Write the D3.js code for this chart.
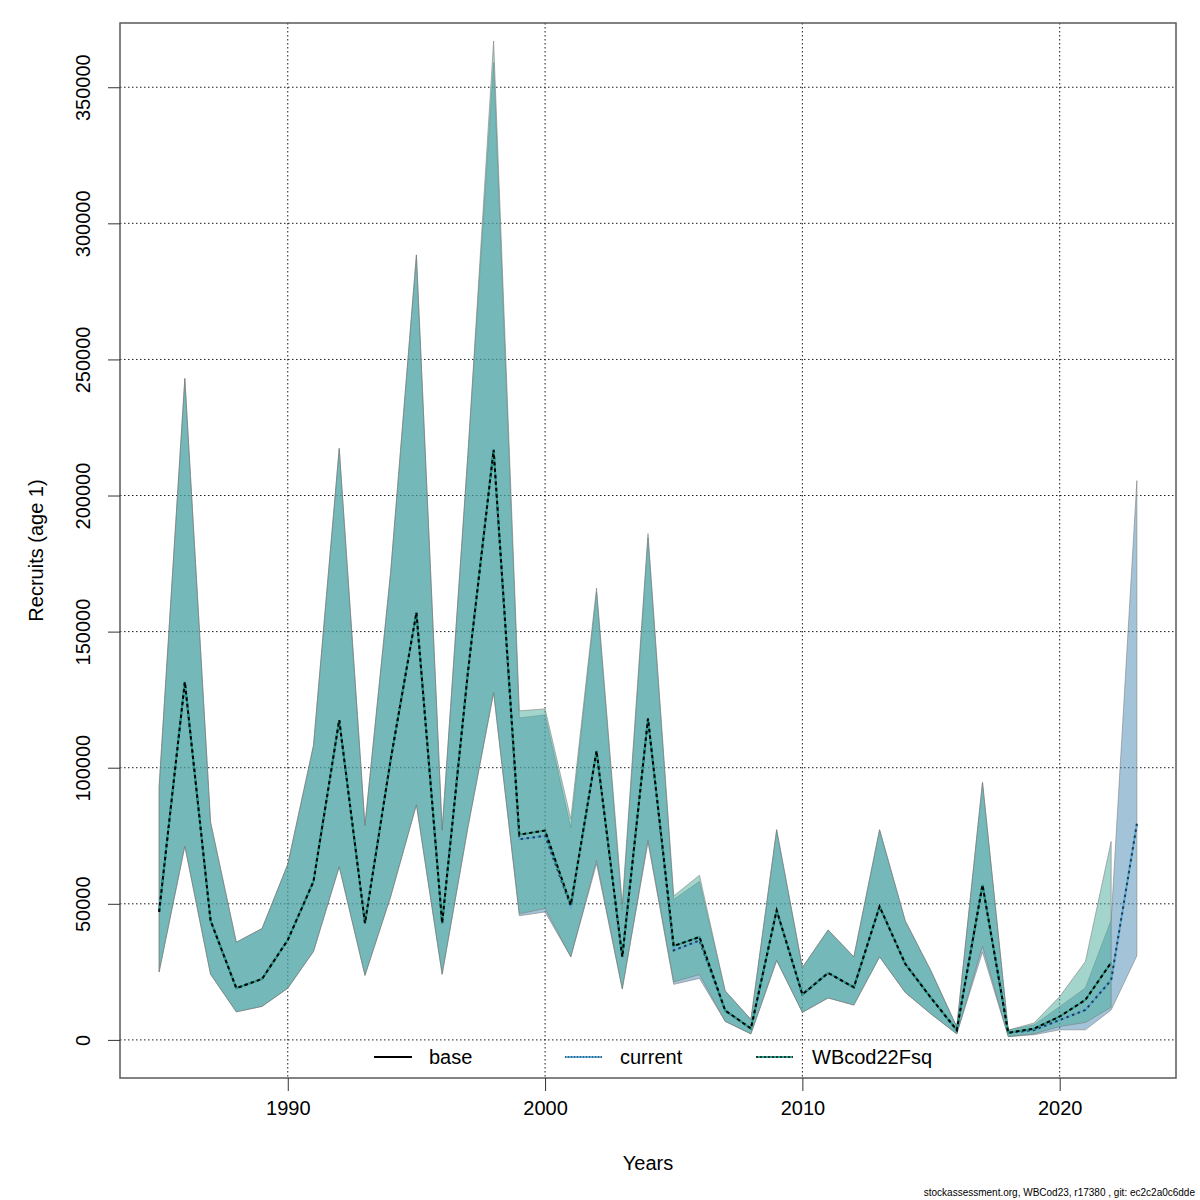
<!DOCTYPE html>
<html>
<head>
<meta charset="utf-8">
<script src="https://cdn.jsdelivr.net/npm/d3@7"></script>
<style>
  body { margin: 0; background: #fff; }
  svg { font-family: "Liberation Sans", Arial, Helvetica, sans-serif; }
  .grid line { stroke: #000; stroke-width: 0.9; stroke-dasharray: 1.5,2.5; }
</style>
</head>
<body>
<div id="chart"></div>
<script>
// ---- data ----
const years = d3.range(1985, 2024);
const yearsWB = d3.range(1985, 2023);

const curEst = [47000, 131500, 43800, 19000, 22400, 36700, 58200, 117500, 42900, 103000,
    157000, 42900, 135000, 216800, 73700, 75000, 49000, 106000, 30500, 118000,
    32900, 36500, 10800, 4200, 47600, 16700, 24600, 19300, 49000, 27900,
    15400, 3600, 56900, 2600, 3600, 7300, 11000, 22000, 79400];
const curLow = [25000, 71200, 24100, 10300, 12300, 19000, 32500, 63600, 23700, 52700,
    86400, 24100, 78000, 127600, 45600, 47000, 30500, 64700, 18700, 72600,
    20400, 22600, 6800, 2200, 29200, 10100, 15400, 12800, 30500, 17400,
    9500, 2200, 32300, 1200, 1900, 3700, 3700, 11000, 30900];
const curHigh = [93000, 243000, 80000, 35900, 40900, 64500, 108200, 217300, 78800, 172000,
    288400, 77100, 215000, 359000, 118300, 119400, 77900, 164500, 47600, 184500,
    51600, 58200, 18000, 7500, 77200, 26600, 40400, 30500, 77200, 43700,
    25300, 4800, 94600, 3600, 5500, 12200, 19100, 44000, 205500];

const wbEst = [47000, 131500, 43800, 19000, 22400, 36700, 58200, 117500, 42900, 103000,
    157000, 42900, 135000, 216800, 75400, 76900, 49600, 106200, 30500, 118000,
    34500, 37800, 10800, 4200, 47600, 16700, 24600, 19300, 49000, 27900,
    15400, 3600, 56900, 2600, 4100, 8600, 14700, 28400];
const wbLow = [25000, 71200, 24100, 10300, 12300, 19000, 32500, 63600, 23700, 52700,
    86400, 24100, 78000, 127600, 46300, 48300, 30500, 66000, 18700, 73500,
    21300, 24000, 6800, 2200, 29200, 10100, 15400, 12800, 30500, 17400,
    9500, 2200, 34500, 1200, 2200, 4900, 6400, 12000];
const wbHigh = [93000, 243000, 80000, 35900, 40900, 64500, 108200, 217300, 78800, 172000,
    288400, 77100, 215000, 367000, 120900, 121600, 81200, 166000, 50000, 186000,
    52900, 60500, 18000, 7500, 77200, 26600, 40400, 30500, 77200, 43700,
    25300, 4800, 94600, 3600, 6200, 15900, 28800, 72900];

const xTicks = [1990, 2000, 2010, 2020];
const yTicks = [0, 50000, 100000, 150000, 200000, 250000, 300000, 350000];
const legendNames = ["base", "current", "WBcod22Fsq"];

// ---- layout ----
const W = 1200, H = 1200;
const margin = {top: 23, right: 24, bottom: 122, left: 120};
const width = W - margin.left - margin.right;
const height = H - margin.top - margin.bottom;

const svg = d3.select("#chart").append("svg")
    .attr("width", W)
    .attr("height", H);

const chart = svg.append("g")
    .attr("transform", "translate(" + margin.left + "," + margin.top + ")");

// R style: 4% range extension
const x = d3.scaleLinear()
    .domain([1983.48, 2024.52])
    .range([0, width]);
const y = d3.scaleLinear()
    .domain([-14000, 373600])
    .range([height, 0]);

// grid
chart.append("g")
    .attr("class", "grid")
    .selectAll("line.gy")
    .data(yTicks)
    .enter().append("line")
    .attr("x1", 0).attr("x2", width)
    .attr("y1", d => y(d)).attr("y2", d => y(d));
chart.select(".grid")
    .selectAll("line.gx")
    .data(xTicks)
    .enter().append("line")
    .attr("y1", 0).attr("y2", height)
    .attr("x1", d => x(d)).attr("x2", d => x(d));

// bands
const rows = function (yrs, lo, hi, est) {
    return yrs.map((yr, i) => ({year: yr, lo: lo[i], hi: hi[i], est: est[i]}));
};
const curData = rows(years, curLow, curHigh, curEst);
const wbData = rows(yearsWB, wbLow, wbHigh, wbEst);

const area = d3.area()
    .x(d => x(d.year))
    .y0(d => y(d.lo))
    .y1(d => y(d.hi));
const line = d3.line()
    .x(d => x(d.year))
    .y(d => y(d.est));

const curFill = "rgba(71,137,177,0.5)";
const wbFill = "rgba(71,171,153,0.5)";
const curCol = "#5ea9d6";
const wbCol = "#2f9e88";

chart.append("path")
    .datum(curData)
    .attr("d", area)
    .attr("fill", curFill)
    .attr("stroke", "rgba(120,120,120,0.55)")
    .attr("stroke-width", 1);
chart.append("path")
    .datum(wbData)
    .attr("d", area)
    .attr("fill", wbFill)
    .attr("stroke", "rgba(120,120,120,0.55)")
    .attr("stroke-width", 1);

// estimate lines: coloured line with dark dashes on top
chart.append("path")
    .datum(curData)
    .attr("d", line)
    .attr("fill", "none")
    .attr("stroke", curCol)
    .attr("stroke-width", 2);
chart.append("path")
    .datum(curData)
    .attr("d", line)
    .attr("fill", "none")
    .attr("stroke", "#1f3f4f")
    .attr("stroke-width", 2)
    .attr("stroke-dasharray", "2.5,3.5");
chart.append("path")
    .datum(wbData)
    .attr("d", line)
    .attr("fill", "none")
    .attr("stroke", wbCol)
    .attr("stroke-width", 2);
chart.append("path")
    .datum(wbData)
    .attr("d", line)
    .attr("fill", "none")
    .attr("stroke", "#000")
    .attr("stroke-width", 2)
    .attr("stroke-dasharray", "3.5,3");

// box
chart.append("rect")
    .attr("x", 0).attr("y", 0)
    .attr("width", width).attr("height", height)
    .attr("fill", "none")
    .attr("stroke", "#5a5a5a")
    .attr("stroke-width", 1.5);

// axes
const xAxis = d3.axisBottom(x)
    .tickValues(xTicks)
    .tickFormat(d3.format("d"))
    .tickSize(13)
    .tickPadding(10);
const yAxis = d3.axisLeft(y)
    .tickValues(yTicks)
    .tickFormat(d3.format("d"))
    .tickSize(12)
    .tickPadding(6);

const gx = chart.append("g")
    .attr("transform", "translate(0," + height + ")")
    .call(xAxis);
gx.select(".domain").remove();
gx.selectAll(".tick line").attr("stroke", "#333");
gx.selectAll(".tick text")
    .attr("font-size", 20)
    .attr("fill", "#000")
    .attr("font-family", "Liberation Sans, Arial, sans-serif");

const gy = chart.append("g")
    .call(yAxis);
gy.select(".domain").remove();
gy.selectAll(".tick line").attr("stroke", "#333");
gy.selectAll(".tick text")
    .attr("font-size", 20)
    .attr("fill", "#000")
    .attr("font-family", "Liberation Sans, Arial, sans-serif")
    .attr("text-anchor", "middle")
    .attr("dy", 0)
    .attr("x", 0)
    .attr("transform", "translate(-30,0) rotate(-90)");

// axis titles
svg.append("text")
    .attr("x", margin.left + width / 2)
    .attr("y", 1170)
    .attr("text-anchor", "middle")
    .attr("font-size", 20)
    .text("Years");
svg.append("text")
    .attr("transform", "translate(43," + (margin.top + height / 2) + ") rotate(-90)")
    .attr("text-anchor", "middle")
    .attr("font-size", 20)
    .text("Recruits (age 1)");

// legend
const legendLineX = [374, 565, 756];
const legendTextX = [429, 620, 812];
const legend = svg.append("g")
    .attr("transform", "translate(0,1057)");
legendNames.forEach(function (name, i) {
    const g = legend.append("g");
    const x0 = legendLineX[i];
    if (i === 0) {
        g.append("line").attr("x1", x0).attr("x2", x0 + 38)
            .attr("stroke", "#000").attr("stroke-width", 2);
    } else {
        g.append("line").attr("x1", x0).attr("x2", x0 + 37)
            .attr("stroke", i === 1 ? curCol : wbCol).attr("stroke-width", 2);
        g.append("line").attr("x1", x0).attr("x2", x0 + 37)
            .attr("stroke", i === 1 ? "#1f3f4f" : "#000").attr("stroke-width", 2)
            .attr("stroke-dasharray", i === 1 ? "1,2" : "2,2").attr("opacity", 0.6);
    }
    g.append("text")
        .attr("x", legendTextX[i])
        .attr("dy", "0.35em")
        .attr("font-size", 20)
        .text(name);
});

// footnote
svg.append("text")
    .attr("x", 1195)
    .attr("y", 1196)
    .attr("text-anchor", "end")
    .attr("font-size", 10)
    .text("stockassessment.org, WBCod23, r17380 , git: ec2c2a0c6dde");
</script>
</body>
</html>
